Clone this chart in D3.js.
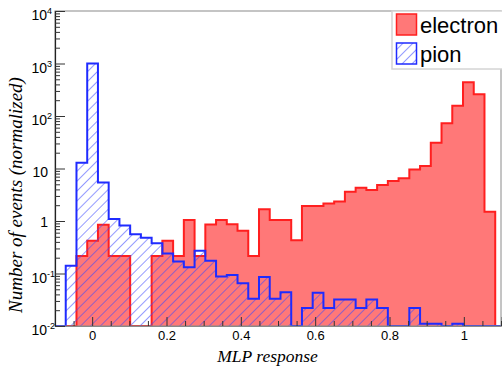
<!DOCTYPE html>
<html>
<head>
<meta charset="utf-8">
<script src="https://cdn.jsdelivr.net/npm/d3@7"></script>
<style>
  body { margin: 0; background: #fff; }
  svg { display: block; }
</style>
</head>
<body>
<svg id="chart"></svg>
<script>
// 45 bins from -0.1 to 1.2, the axis stops at 1.1
const binStart = -0.1;
const binWidth = 1.3 / 45;

const electron = [
  0, 0, 0.215, 0.42, 0.85, 0.215, 0.215, 0, 0, 0.215,
  0.42, 0.215, 1.05, 0.215, 0.86, 1.05, 0.87, 0.65, 0.215, 1.67,
  1.05, 1.05, 0.43, 1.94, 1.94, 2.15, 2.35, 3.6, 4.3, 3.9,
  4.85, 5.8, 6.5, 9.6, 11.2, 31, 73, 157, 440, 259,
  1.5, 0
];
const pion = [
  0, 0.14, 12.9, 1000, 5.4, 1.09, 0.82, 0.56, 0.48, 0.376,
  0.24, 0.17, 0.132, 0.27, 0.174, 0.088, 0.094, 0.065, 0.033, 0.086,
  0.033, 0.044, 0, 0.022, 0.043, 0.022, 0.032, 0.032, 0.022, 0.032,
  0.022, 0, 0, 0.022, 0.011, 0.011, 0, 0.011, 0, 0,
  0, 0
];

const xTicks = [0, 0.2, 0.4, 0.6, 0.8, 1];
const xMinorTicks = d3.range(-2, 23).map(i => i * 0.05).filter(v => Math.abs(v * 5 - Math.round(v * 5)) > 1e-6);
const yDecades = [-2, -1, 0, 1, 2, 3, 4];
const legendLabels = ['electron', 'pion'];

const width = 502, height = 367;
const frame = { left: 55, right: 501, top: 11, bottom: 326 };

const redFill = '#ff7878';
const redLine = '#ff1f1f';
const blueLine = '#1f2bff';

const svg = d3.select('#chart')
  .attr('width', width)
  .attr('height', height)
  .style('font-family', '"Liberation Sans", Arial, sans-serif');

const defs = svg.append('defs');
defs.append('pattern')
  .attr('id', 'hatch')
  .attr('patternUnits', 'userSpaceOnUse')
  .attr('width', 7)
  .attr('height', 7)
  .attr('patternTransform', 'rotate(45)')
  .append('line')
  .attr('x1', 0).attr('y1', 0)
  .attr('x2', 0).attr('y2', 7)
  .attr('stroke', '#3a46ff')
  .attr('stroke-width', 1.1);

defs.append('clipPath')
  .attr('id', 'frameClip')
  .append('rect')
  .attr('x', frame.left)
  .attr('y', frame.top)
  .attr('width', frame.right - frame.left)
  .attr('height', frame.bottom - frame.top);

// Scales
const x = d3.scaleLinear().domain([-0.1, 1.1]).range([frame.left, frame.right]);
const y = d3.scaleLog().domain([0.01, 10000]).range([frame.bottom, frame.top]);
const yv = v => y(Math.max(v, 0.01));

// step points: [x, value] for each bin edge, closed down to the bottom at both ends
function stepPoints(values) {
  const pts = [[binStart, 0]];
  values.forEach((v, i) => {
    const x0 = binStart + i * binWidth;
    pts.push([x0, v], [x0 + binWidth, v]);
  });
  pts.push([binStart + values.length * binWidth, 0]);
  return pts;
}

const area = d3.area()
  .x(d => x(d[0]))
  .y0(frame.bottom)
  .y1(d => yv(d[1]));

const line = d3.line()
  .x(d => x(d[0]))
  .y(d => yv(d[1]));

const plot = svg.append('g').attr('clip-path', 'url(#frameClip)');

// electron first, pion hatch on top
plot.append('path')
  .datum(stepPoints(electron))
  .attr('fill', redFill)
  .attr('d', area);
plot.append('path')
  .datum(stepPoints(electron))
  .attr('fill', 'none')
  .attr('stroke', redLine)
  .attr('stroke-width', 2)
  .attr('d', line);

plot.append('path')
  .datum(stepPoints(pion))
  .attr('fill', 'url(#hatch)')
  .attr('d', area);
plot.append('path')
  .datum(stepPoints(pion))
  .attr('fill', 'none')
  .attr('stroke', blueLine)
  .attr('stroke-width', 2)
  .attr('d', line);

// Frame
svg.append('rect')
  .attr('x', frame.left)
  .attr('y', frame.top)
  .attr('width', frame.right - frame.left)
  .attr('height', frame.bottom - frame.top)
  .attr('fill', 'none')
  .attr('stroke', '#8a8a8a')
  .attr('stroke-width', 1);

// X axis, ticks pointing up into the frame
const xAxis = svg.append('g')
  .attr('transform', `translate(0,${frame.bottom})`)
  .call(d3.axisBottom(x).tickValues(xTicks).tickSize(-9).tickFormat(d3.format('~g')));
xAxis.select('.domain').attr('stroke', '#8a8a8a');
xAxis.selectAll('.tick line').attr('stroke', '#333');
xAxis.selectAll('.tick text')
  .attr('y', 5)
  .attr('dy', '0.71em')
  .style('font-size', '13px')
  .style('font-family', '"Liberation Sans", Arial, sans-serif')
  .attr('fill', '#000');

const xMinor = svg.append('g')
  .attr('transform', `translate(0,${frame.bottom})`)
  .call(d3.axisBottom(x).tickValues(xMinorTicks).tickSize(-5).tickFormat(''));
xMinor.select('.domain').remove();
xMinor.selectAll('.tick line').attr('stroke', '#333');

// Y axis (log), decades long, 2..9 short
const yAxis = svg.append('g')
  .attr('transform', `translate(${frame.left},0)`)
  .call(d3.axisLeft(y).tickValues(yDecades.map(d => Math.pow(10, d))).tickSize(-10).tickFormat(''));
yAxis.select('.domain').attr('stroke', '#222').attr('stroke-width', 1.2);
yAxis.selectAll('.tick line').attr('stroke', '#333');

const yMinorValues = [];
yDecades.slice(0, -1).forEach(d => {
  d3.range(2, 10).forEach(m => yMinorValues.push(m * Math.pow(10, d)));
});
const yMinor = svg.append('g')
  .attr('transform', `translate(${frame.left},0)`)
  .call(d3.axisLeft(y).tickValues(yMinorValues).tickSize(-5).tickFormat(''));
yMinor.select('.domain').remove();
yMinor.selectAll('.tick line').attr('stroke', '#333');

// Y tick labels with superscripts
const yLabels = svg.append('g')
  .style('font-size', '14px')
  .attr('fill', '#000');
yDecades.forEach(d => {
  const ty = y(Math.pow(10, d));
  if (d === 0 || d === 1) {
    yLabels.append('text')
      .attr('x', 48)
      .attr('y', ty + (d === 0 ? 5.5 : 8))
      .attr('text-anchor', 'end')
      .text(d === 0 ? '1' : '10');
  } else {
    const t = yLabels.append('text')
      .attr('x', 31.5)
      .attr('y', ty + 9);
    t.append('tspan').text('10');
    t.append('tspan')
      .attr('dy', -6)
      .style('font-size', '9px')
      .text(d);
  }
});

// Axis titles
svg.append('text')
  .attr('x', 267.5)
  .attr('y', 362)
  .attr('text-anchor', 'middle')
  .style('font-family', '"Liberation Serif", "Times New Roman", serif')
  .style('font-style', 'italic')
  .style('font-size', '17.5px')
  .text('MLP response');

svg.append('text')
  .attr('transform', 'translate(22,195) rotate(-90)')
  .attr('text-anchor', 'middle')
  .style('font-family', '"Liberation Serif", "Times New Roman", serif')
  .style('font-style', 'italic')
  .style('font-size', '19px')
  .text('Number of events (normalized)');

// Legend
const legend = svg.append('g');
legend.append('rect')
  .attr('x', 392)
  .attr('y', frame.top)
  .attr('width', 120)
  .attr('height', 58)
  .attr('fill', '#fff')
  .attr('stroke', '#d4d4d4')
  .attr('stroke-width', 1.5);

const legendFills = [redFill, 'url(#hatch)'];
const legendStrokes = [redLine, blueLine];
legendLabels.forEach((label, i) => {
  const ly = 14 + i * 29;
  legend.append('rect')
    .attr('x', 396.5)
    .attr('y', ly)
    .attr('width', 20)
    .attr('height', 21)
    .attr('fill', legendFills[i])
    .attr('stroke', legendStrokes[i])
    .attr('stroke-width', 1.5);
  legend.append('text')
    .attr('x', 420)
    .attr('y', ly + 19)
    .style('font-size', '22px')
    .attr('fill', '#000')
    .text(label);
});
</script>
</body>
</html>
